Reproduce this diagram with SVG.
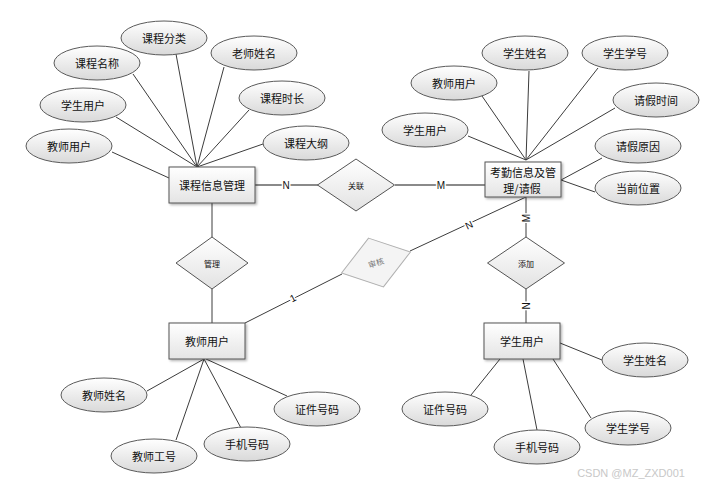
<svg xmlns="http://www.w3.org/2000/svg" width="706" height="486" viewBox="0 0 706 486">
<defs>
<linearGradient id="gEll" x1="0" y1="0" x2="0" y2="1">
<stop offset="0" stop-color="#ffffff"/>
<stop offset="1" stop-color="#d9d9d9"/>
</linearGradient>
<linearGradient id="gRect" x1="0" y1="0" x2="0" y2="1">
<stop offset="0" stop-color="#ffffff"/>
<stop offset="1" stop-color="#e4e4e4"/>
</linearGradient>
<linearGradient id="gDia" x1="0" y1="0" x2="0" y2="1">
<stop offset="0" stop-color="#ffffff"/>
<stop offset="1" stop-color="#e2e2e2"/>
</linearGradient>
<filter id="sh" x="-10%" y="-10%" width="130%" height="140%">
<feDropShadow dx="1.5" dy="1.5" stdDeviation="1" flood-color="#000" flood-opacity="0.3"/>
</filter>
</defs>
<style>
text{font-family:"Noto Sans CJK SC","Liberation Sans",sans-serif;fill:#111;text-anchor:middle;dominant-baseline:central}
.t{font-size:11px}
.d{font-size:8px}
.ell{fill:url(#gEll);stroke:#5a5a5a;stroke-width:1}
.ent{fill:url(#gRect);stroke:#555;stroke-width:1;filter:url(#sh)}
.dia{fill:url(#gDia);stroke:#555;stroke-width:1}
.ln{stroke:#3c3c3c;stroke-width:1;fill:none}
.hl{stroke:#8a8a8a;stroke-width:2;fill:none}
.lb{font-family:"Liberation Sans",sans-serif;font-size:10px;paint-order:stroke;stroke:#fff;stroke-width:3px}
</style>
<rect width="706" height="486" fill="#fff"/>

<g id="connectors">
<line class="ln" x1="176" y1="54" x2="197" y2="167"/>
<line class="ln" x1="133" y1="74" x2="197" y2="167"/>
<line class="ln" x1="224" y1="67" x2="197" y2="167"/>
<line class="ln" x1="249" y1="110" x2="197" y2="167"/>
<line class="ln" x1="263" y1="144" x2="197" y2="167"/>
<line class="ln" x1="116" y1="117" x2="197" y2="167"/>
<line class="ln" x1="112" y1="152" x2="169" y2="178"/>
<line class="hl" x1="255" y1="185" x2="318" y2="185"/>
<line class="hl" x1="395" y1="185" x2="485" y2="185"/>
<line class="ln" x1="212" y1="203" x2="212" y2="237"/>
<line class="ln" x1="212" y1="289" x2="212" y2="323"/>
<line class="ln" x1="245" y1="323" x2="342" y2="274"/>
<line class="ln" x1="410" y1="251" x2="526" y2="197"/>
<line class="ln" x1="526" y1="197" x2="526" y2="237"/>
<line class="ln" x1="526" y1="289" x2="526" y2="323"/>
<line class="ln" x1="529" y1="71" x2="526" y2="160"/>
<line class="ln" x1="482" y1="96" x2="526" y2="160"/>
<line class="ln" x1="598" y1="68" x2="526" y2="160"/>
<line class="ln" x1="615" y1="108" x2="526" y2="160"/>
<line class="ln" x1="468" y1="136" x2="526" y2="160"/>
<line class="ln" x1="602" y1="158" x2="561" y2="180"/>
<line class="ln" x1="595" y1="192" x2="561" y2="180" stroke-width="1.6"/>
<line class="ln" x1="147" y1="391" x2="204" y2="359"/>
<line class="ln" x1="176" y1="440" x2="204" y2="359"/>
<line class="ln" x1="241" y1="428" x2="204" y2="359"/>
<line class="ln" x1="287" y1="396" x2="206" y2="359"/>
<line class="ln" x1="602" y1="360" x2="560" y2="343"/>
<line class="ln" x1="471" y1="395" x2="500" y2="359"/>
<line class="ln" x1="537" y1="430" x2="523" y2="359"/>
<line class="ln" x1="591" y1="418" x2="553" y2="359"/>
<text class="lb" x="286" y="185">N</text>
<text class="lb" x="441" y="185">M</text>
<text class="lb" transform="translate(293,298) rotate(-27)">1</text>
<text class="lb" transform="translate(469,225) rotate(-25)">N</text>
<text class="lb" transform="translate(526,218) rotate(-90)">M</text>
<text class="lb" transform="translate(526,306) rotate(-90)">N</text>
</g>

<g id="course-mgmt"><rect class="ent" x="169" y="167" width="86" height="36"/><text class="t" x="212" y="185">课程信息管理</text></g>
<g id="attendance"><rect class="ent" x="485" y="162" width="76" height="35"/><text class="t" x="523" y="172">考勤信息及管</text><text class="t" x="522" y="188">理/请假</text></g>
<g id="teacher"><rect class="ent" x="169" y="323" width="76" height="36"/><text class="t" x="207" y="341">教师用户</text></g>
<g id="student"><rect class="ent" x="484" y="323" width="76" height="36"/><text class="t" x="522" y="341">学生用户</text></g>

<g id="rel-link"><polygon class="dia" points="356,159 394.5,185 356,211 317.5,185"/><text class="d" x="356" y="185">关联</text></g>
<g id="rel-manage"><polygon class="dia" points="212,237 248,263 212,289 176,263"/><text class="d" x="212" y="263">管理</text></g>
<g id="rel-add"><polygon class="dia" points="526,237 564.5,263 526,289 487.5,263"/><text class="d" x="526" y="263">添加</text></g>
<g id="rel-review" transform="translate(376,262.5) rotate(-17)"><polygon points="0,-25.5 36,0 0,25.5 -36,0" fill="#f4f4f4" stroke="#b0b0b0" stroke-width="1"/><text x="0" y="0" style="font-size:8px;fill:#777">审核</text></g>

<g id="a-kcfl"><ellipse class="ell" cx="164" cy="38" rx="43" ry="17"/><text class="t" x="164" y="38">课程分类</text></g>
<g id="a-kcmc"><ellipse class="ell" cx="97" cy="63" rx="43" ry="17"/><text class="t" x="97" y="63">课程名称</text></g>
<g id="a-lsxm"><ellipse class="ell" cx="254" cy="53" rx="43" ry="17"/><text class="t" x="254" y="53">老师姓名</text></g>
<g id="a-xsyh1"><ellipse class="ell" cx="83" cy="105" rx="43" ry="17"/><text class="t" x="83" y="105">学生用户</text></g>
<g id="a-kcsc"><ellipse class="ell" cx="282" cy="98" rx="43" ry="17"/><text class="t" x="282" y="98">课程时长</text></g>
<g id="a-jsyh1"><ellipse class="ell" cx="69" cy="146" rx="43" ry="17"/><text class="t" x="69" y="146">教师用户</text></g>
<g id="a-kcdg"><ellipse class="ell" cx="306" cy="143" rx="43" ry="17"/><text class="t" x="306" y="143">课程大纲</text></g>

<g id="a-xsxm1"><ellipse class="ell" cx="525" cy="53" rx="43" ry="17"/><text class="t" x="525" y="53">学生姓名</text></g>
<g id="a-xsxh1"><ellipse class="ell" cx="625" cy="53" rx="43" ry="17"/><text class="t" x="625" y="53">学生学号</text></g>
<g id="a-jsyh2"><ellipse class="ell" cx="454" cy="83" rx="43" ry="17"/><text class="t" x="454" y="83">教师用户</text></g>
<g id="a-qjsj"><ellipse class="ell" cx="656" cy="100" rx="43" ry="17"/><text class="t" x="656" y="100">请假时间</text></g>
<g id="a-xsyh2"><ellipse class="ell" cx="425" cy="130" rx="43" ry="17"/><text class="t" x="425" y="130">学生用户</text></g>
<g id="a-qjyy"><ellipse class="ell" cx="638" cy="146" rx="43" ry="17"/><text class="t" x="638" y="146">请假原因</text></g>
<g id="a-dqwz"><ellipse class="ell" cx="638" cy="188" rx="43" ry="17"/><text class="t" x="638" y="188">当前位置</text></g>

<g id="a-jsxm"><ellipse class="ell" cx="104" cy="395" rx="43" ry="17"/><text class="t" x="104" y="395">教师姓名</text></g>
<g id="a-jsgh"><ellipse class="ell" cx="154" cy="456" rx="43" ry="17"/><text class="t" x="154" y="456">教师工号</text></g>
<g id="a-sjhm1"><ellipse class="ell" cx="247" cy="444" rx="43" ry="17"/><text class="t" x="247" y="444">手机号码</text></g>
<g id="a-zjhm1"><ellipse class="ell" cx="317" cy="409" rx="43" ry="17"/><text class="t" x="317" y="409">证件号码</text></g>

<g id="a-xsxm2"><ellipse class="ell" cx="645" cy="360" rx="43" ry="17"/><text class="t" x="645" y="360">学生姓名</text></g>
<g id="a-zjhm2"><ellipse class="ell" cx="445" cy="409" rx="43" ry="17"/><text class="t" x="445" y="409">证件号码</text></g>
<g id="a-sjhm2"><ellipse class="ell" cx="537" cy="447" rx="43" ry="17"/><text class="t" x="537" y="447">手机号码</text></g>
<g id="a-xsxh2"><ellipse class="ell" cx="628" cy="428" rx="43" ry="17"/><text class="t" x="628" y="428">学生学号</text></g>

<text x="631" y="473" style="font-family:'Liberation Sans',sans-serif;font-size:11px;fill:#c8c8c8">CSDN @MZ_ZXD001</text>
</svg>
